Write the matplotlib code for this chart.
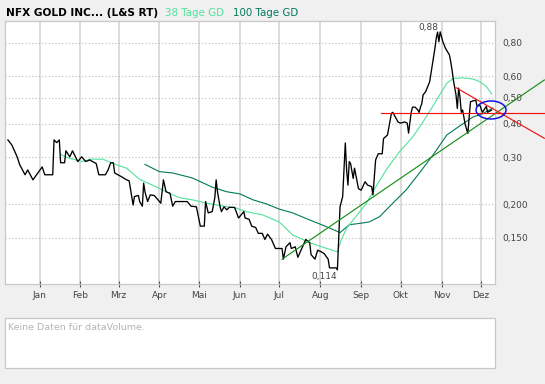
"""NFX Gold Inc. (L&S RT) one-year price chart with 38/100-day averages and drawn trend lines."""
import pandas as pd
import matplotlib as mpl
import matplotlib.pyplot as plt
import matplotlib.dates as mdates
from matplotlib.patches import Ellipse, Rectangle
from matplotlib.ticker import NullLocator
from matplotlib.transforms import ScaledTranslation

mpl.rcParams.update({"font.family": "DejaVu Sans"})
BG, GRID, EDGE, TXT = "#f0f0f0", "#d2d2d2", "#c8c8c8", "#444444"
MA38_C, MA100_C, TREND_G, TREND_R, RING = "#4fe39a", "#007a5a", "#1a8f1a", "#f01414", "#1414e6"

# --- data ---
price_dates = [
    "2011-12-08", "2011-12-11", "2011-12-15", "2011-12-17", "2011-12-21", "2011-12-23", "2011-12-27",
    "2012-01-03", "2012-01-05", "2012-01-11", "2012-01-12", "2012-01-14", "2012-01-16", "2012-01-17",
    "2012-01-20", "2012-01-21", "2012-01-24", "2012-01-26", "2012-01-30",
    "2012-02-02", "2012-02-05", "2012-02-08", "2012-02-13", "2012-02-15", "2012-02-20", "2012-02-22",
    "2012-02-24", "2012-02-26", "2012-02-27",
    "2012-03-03", "2012-03-07", "2012-03-09", "2012-03-11", "2012-03-12", "2012-03-13", "2012-03-16",
    "2012-03-17", "2012-03-19", "2012-03-20", "2012-03-21", "2012-03-23", "2012-03-25", "2012-03-28",
    "2012-04-01", "2012-04-02", "2012-04-04", "2012-04-06", "2012-04-09", "2012-04-11", "2012-04-13",
    "2012-04-22", "2012-04-25", "2012-04-29",
    "2012-05-02", "2012-05-05", "2012-05-06", "2012-05-08", "2012-05-11", "2012-05-13", "2012-05-14",
    "2012-05-15", "2012-05-17", "2012-05-18", "2012-05-20", "2012-05-22", "2012-05-24", "2012-05-28",
    "2012-05-31",
    "2012-06-02", "2012-06-04", "2012-06-05", "2012-06-08", "2012-06-10", "2012-06-13", "2012-06-15",
    "2012-06-18", "2012-06-20", "2012-06-22", "2012-06-25", "2012-06-28",
    "2012-07-03", "2012-07-04", "2012-07-06", "2012-07-09", "2012-07-10", "2012-07-13", "2012-07-15",
    "2012-07-18", "2012-07-21", "2012-07-24", "2012-07-25", "2012-07-28", "2012-07-30",
    "2012-08-02", "2012-08-04", "2012-08-07", "2012-08-08", "2012-08-13", "2012-08-14", "2012-08-16",
    "2012-08-18", "2012-08-20", "2012-08-21", "2012-08-22", "2012-08-23", "2012-08-24", "2012-08-26",
    "2012-08-27", "2012-08-30",
    "2012-09-01", "2012-09-04", "2012-09-06", "2012-09-09", "2012-09-10", "2012-09-12", "2012-09-14",
    "2012-09-17", "2012-09-18", "2012-09-21", "2012-09-24", "2012-09-25", "2012-09-29",
    "2012-10-01", "2012-10-04", "2012-10-06", "2012-10-07", "2012-10-09", "2012-10-10", "2012-10-12",
    "2012-10-14", "2012-10-15", "2012-10-16", "2012-10-17", "2012-10-18", "2012-10-20", "2012-10-23",
    "2012-10-25", "2012-10-27", "2012-10-28", "2012-10-29", "2012-10-30", "2012-10-31",
    "2012-11-01", "2012-11-02", "2012-11-04", "2012-11-07", "2012-11-08", "2012-11-09", "2012-11-10",
    "2012-11-12", "2012-11-13", "2012-11-14", "2012-11-15", "2012-11-16", "2012-11-17", "2012-11-19",
    "2012-11-21", "2012-11-22", "2012-11-23", "2012-11-27", "2012-11-28", "2012-11-30",
    "2012-12-02", "2012-12-05", "2012-12-06", "2012-12-09",
]
price = [
    0.348, 0.333, 0.301, 0.281, 0.258, 0.269, 0.247,
    0.276, 0.258, 0.258, 0.348, 0.340, 0.348, 0.286,
    0.286, 0.317, 0.301, 0.317, 0.289,
    0.301, 0.289, 0.293, 0.284, 0.258, 0.258, 0.269,
    0.286, 0.286, 0.262,
    0.254, 0.247, 0.245, 0.214, 0.199, 0.214, 0.216,
    0.205, 0.197, 0.240, 0.223, 0.205, 0.217, 0.216,
    0.205, 0.202, 0.247, 0.223, 0.220, 0.197, 0.205,
    0.205, 0.197, 0.196,
    0.166, 0.166, 0.205, 0.186, 0.188, 0.212, 0.247,
    0.223, 0.196, 0.188, 0.196, 0.191, 0.195, 0.195,
    0.178,
    0.183, 0.188, 0.178, 0.176, 0.166, 0.164, 0.156,
    0.156, 0.148, 0.155, 0.148, 0.137,
    0.137, 0.125, 0.139, 0.144, 0.137, 0.139, 0.127,
    0.137, 0.148, 0.144, 0.130, 0.125, 0.135,
    0.133, 0.131, 0.125, 0.116, 0.116, 0.114, 0.196,
    0.214, 0.339, 0.269, 0.236, 0.289, 0.284, 0.250,
    0.273, 0.229,
    0.226, 0.243, 0.236, 0.233, 0.217, 0.293, 0.309,
    0.309, 0.352, 0.363, 0.437, 0.441, 0.406,
    0.402, 0.406, 0.402, 0.369, 0.441, 0.461, 0.461,
    0.450, 0.441, 0.461, 0.474, 0.512, 0.527, 0.573,
    0.662, 0.764, 0.833, 0.878, 0.809, 0.880,
    0.844, 0.809, 0.764, 0.722, 0.681, 0.634, 0.582,
    0.512, 0.456, 0.543, 0.504, 0.441, 0.450, 0.396,
    0.368, 0.425, 0.483, 0.490, 0.464, 0.470,
    0.441, 0.464, 0.441, 0.450,
]
ma38_dates = ["2012-01-17", "2012-01-21", "2012-02-02", "2012-02-09", "2012-02-18", "2012-02-26",
              "2012-03-07", "2012-03-17", "2012-03-30", "2012-04-06", "2012-04-16", "2012-04-26",
              "2012-05-07", "2012-05-17", "2012-05-29", "2012-06-06", "2012-06-18", "2012-07-01",
              "2012-07-11", "2012-07-24", "2012-08-06", "2012-08-14", "2012-08-17", "2012-08-21",
              "2012-08-28", "2012-09-05", "2012-09-12", "2012-09-20", "2012-09-30", "2012-10-10",
              "2012-10-18", "2012-10-26", "2012-11-01", "2012-11-05", "2012-11-10", "2012-11-17",
              "2012-11-25", "2012-11-30", "2012-12-05", "2012-12-09"]
ma38 = [0.308, 0.300, 0.289, 0.295, 0.295, 0.284,
        0.273, 0.248, 0.232, 0.223, 0.212, 0.208,
        0.202, 0.198, 0.194, 0.188, 0.183, 0.172,
        0.154, 0.144, 0.137, 0.133, 0.148, 0.163,
        0.180, 0.202, 0.232, 0.269, 0.314, 0.356,
        0.406, 0.470, 0.526, 0.566, 0.590, 0.593,
        0.587, 0.574, 0.551, 0.516]
ma100_dates = ["2012-03-21", "2012-04-01", "2012-04-11", "2012-04-26", "2012-05-11", "2012-05-22",
               "2012-06-01", "2012-06-11", "2012-06-21", "2012-07-01", "2012-07-11", "2012-07-24",
               "2012-08-06", "2012-08-16", "2012-08-23", "2012-08-31", "2012-09-07", "2012-09-15",
               "2012-09-25", "2012-10-05", "2012-10-15", "2012-10-26", "2012-11-05", "2012-11-16",
               "2012-11-25", "2012-12-02", "2012-12-10"]
ma100 = [0.282, 0.265, 0.262, 0.251, 0.232, 0.223,
         0.219, 0.208, 0.201, 0.192, 0.186, 0.175,
         0.165, 0.157, 0.168, 0.170, 0.172, 0.180,
         0.202, 0.226, 0.261, 0.308, 0.363, 0.396,
         0.424, 0.435, 0.458]

# hand-drawn analysis lines (start, end) and the marked zone
up_trend = (("2012-07-03", 0.125), ("2013-01-18", 0.582))
down_trend = (("2012-11-12", 0.545), ("2013-01-18", 0.353))
support = (("2012-09-16", 0.440), ("2013-01-18", 0.440))
ring_center = ("2012-12-08 14:00", 0.450)

months = ["Jan", "Feb", "Mrz", "Apr", "Mai", "Jun", "Jul", "Aug", "Sep", "Okt", "Nov", "Dez"]
y_ticks = [0.15, 0.2, 0.3, 0.4, 0.5, 0.6, 0.8]
y_labels = ["0,150", "0,200", "0,30", "0,40", "0,50", "0,60", "0,80"]

# --- figure ---
W, H = 545, 384
fig = plt.figure(figsize=(W / 100, H / 100), dpi=100, facecolor=BG)
ax = fig.add_axes([5 / W, 1 - 284 / H, 490 / W, 263 / H])
ax.set_facecolor("white")

pd_dates = pd.to_datetime(price_dates)
ax.plot(pd.to_datetime(ma100_dates), ma100, color=MA100_C, lw=0.8, zorder=2)
ax.plot(pd.to_datetime(ma38_dates), ma38, color=MA38_C, lw=0.8, zorder=2)
ax.plot(pd_dates, price, color="black", lw=0.95, zorder=3)

for (d0, v0), (d1, v1), c in [(up_trend[0], up_trend[1], TREND_G), (down_trend[0], down_trend[1], TREND_R),
                              (support[0], support[1], TREND_R)]:
    ax.plot(pd.to_datetime([d0, d1]), [v0, v1], color=c, lw=0.85, zorder=4, clip_on=False)

cx = mdates.date2num(pd.Timestamp(ring_center[0]))
ring = Ellipse((0, 0), 0.30, 0.18, fill=False, ec=RING, lw=1.1, zorder=5, clip_on=False,
               transform=fig.dpi_scale_trans + ScaledTranslation(cx, ring_center[1], ax.transData))
ax.add_patch(ring)

# extremes
i_hi, i_lo = price.index(max(price)), price.index(min(price))
ax.annotate(f"{price[i_hi]:.2f}".replace(".", ","), (pd_dates[i_hi], price[i_hi]), xytext=(-12, 0),
            textcoords="offset pixels", ha="center", va="bottom", fontsize=6.5, color=TXT)
ax.annotate(f"{price[i_lo]:.3f}".replace(".", ","), (pd_dates[i_lo], price[i_lo]), xytext=(-13, -2),
            textcoords="offset pixels", ha="center", va="top", fontsize=6.5, color=TXT)

# axes styling
ax.set_yscale("log")
ax.set_ylim(0.101, 0.966)
ax.set_xlim(pd.Timestamp("2011-12-05 19:00"), pd.Timestamp("2012-12-11 14:00"))
ax.set_yticks(y_ticks, labels=y_labels)
ax.yaxis.set_minor_locator(NullLocator())
ax.yaxis.tick_right()
ax.set_xticks(pd.date_range("2012-01-01", periods=12, freq="MS"), labels=months)
ax.tick_params(axis="y", length=0, pad=5, labelsize=6.5, labelcolor=TXT)
ax.tick_params(axis="x", direction="inout", length=4, width=0.8, color="#555555", pad=3,
               labelsize=6.5, labelcolor=TXT)
ax.xaxis.grid(True, color=GRID, lw=1.1, ls="-")
ax.yaxis.grid(True, color="#bbbbbb", lw=0.8, ls=(0, (1, 2)))
ax.set_axisbelow(True)
for s in ax.spines.values():
    s.set_color(EDGE); s.set_linewidth(0.9)

# header
fig.text(6 / W, 1 - 13 / H, "NFX GOLD INC... (L&S RT)", fontsize=7.6, fontweight="bold", va="center")
fig.text(165 / W, 1 - 13 / H, "38 Tage GD", fontsize=7.4, color=MA38_C, va="center")
fig.text(233 / W, 1 - 13 / H, "100 Tage GD", fontsize=7.4, color=MA100_C, va="center")

# empty volume panel
fig.patches.append(Rectangle((5 / W, 1 - 368 / H), 490 / W, 50 / H, transform=fig.transFigure,
                             fc="white", ec=EDGE, lw=0.9))
fig.text(8 / W, 1 - 328 / H, "Keine Daten für dataVolume.", fontsize=6.8, color="#b4b4b4", va="center")

fig.savefig("out.png", dpi=100, facecolor=BG)
